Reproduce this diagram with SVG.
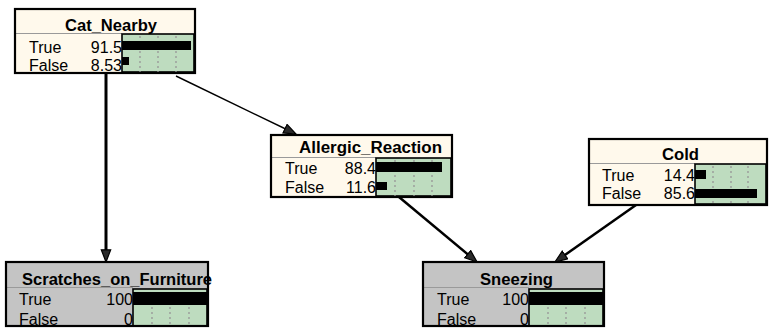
<svg xmlns="http://www.w3.org/2000/svg" width="772" height="335" viewBox="0 0 772 335">
  <style>
    .frame { fill: none; stroke: #000; stroke-width: 2.2; }
    .cream { fill: #fff9ec; }
    .grey { fill: #c4c4c4; }
    .sep { stroke: #9a9a9a; stroke-width: 1; }
    .belief { fill: #bedcbf; stroke: #000; stroke-width: 1.6; }
    .grid { stroke: #9a9a9a; stroke-width: 1.4; stroke-dasharray: 2 3; }
    .bar { fill: #000; }
    .title { font-family: "Liberation Sans", Arial, sans-serif; font-size: 16px; font-weight: bold; fill: #000; }
    .state { font-family: "Liberation Sans", Arial, sans-serif; font-size: 16px; fill: #000; }
    .num { font-family: "Liberation Sans", Arial, sans-serif; font-size: 16px; fill: #000; text-anchor: end; }
    .link { fill: none; stroke: #000; }
  </style>
  <defs>
    <marker id="head" markerUnits="userSpaceOnUse" markerWidth="16" markerHeight="14" refX="5" refY="5.5" orient="auto">
      <path d="M0.8,0.8 L13,5.5 L0.8,10.2 Z" fill="#2a2a2a" stroke="#000" stroke-width="1.2"/>
    </marker>
    <linearGradient id="fade" gradientUnits="userSpaceOnUse" x1="176" y1="76" x2="289" y2="131">
      <stop offset="0" stop-color="#d0d0d0"/>
      <stop offset="0.6" stop-color="#555"/>
      <stop offset="1" stop-color="#000"/>
    </linearGradient>
  </defs>

  <!-- connectors -->
  <g id="links">
    <line class="link" x1="106" y1="73" x2="106" y2="254" stroke-width="3" marker-end="url(#head)"/>
    <line class="link" x1="176" y1="76" x2="288.8" y2="130.5" stroke="url(#fade)" stroke-width="1.4" marker-end="url(#head)"/>
    <line class="link" x1="399" y1="197" x2="470.9" y2="256.9" stroke-width="2.5" marker-end="url(#head)"/>
    <line class="link" x1="636" y1="205" x2="561.5" y2="257.4" stroke-width="2.5" marker-end="url(#head)"/>
  </g>

  <!-- Cat_Nearby -->
  <g id="cat_nearby">
    <rect class="cream" x="15" y="9" width="180" height="64"/>
    <text class="title" x="65" y="31" textLength="92" lengthAdjust="spacingAndGlyphs">Cat_Nearby</text>
    <rect class="cream" x="15" y="33" width="107" height="40"/>
    <line class="sep" x1="15" y1="33.5" x2="122" y2="33.5"/>
    <rect class="belief" x="122" y="34" width="72" height="38"/>
    <line class="grid" x1="140" y1="36" x2="140" y2="72"/>
    <line class="grid" x1="158" y1="36" x2="158" y2="72"/>
    <line class="grid" x1="176" y1="36" x2="176" y2="72"/>
    <rect class="bar" x="122" y="41" width="69" height="9"/>
    <rect class="bar" x="122" y="57" width="7" height="8"/>
    <text class="state" x="29" y="53">True</text>
    <text class="num" x="122" y="53">91.5</text>
    <text class="state" x="29" y="71">False</text>
    <text class="num" x="122" y="71">8.53</text>
    <rect class="frame" x="15" y="9" width="180" height="64"/>
  </g>

  <!-- Allergic_Reaction -->
  <g id="allergic_reaction">
    <rect class="cream" x="271" y="135" width="181" height="62"/>
    <text class="title" x="299" y="153" textLength="143" lengthAdjust="spacingAndGlyphs">Allergic_Reaction</text>
    <rect class="cream" x="271" y="157" width="105" height="40"/>
    <line class="sep" x1="271" y1="157.5" x2="376" y2="157.5"/>
    <rect class="belief" x="376" y="158" width="75" height="38"/>
    <line class="grid" x1="395" y1="160" x2="395" y2="196"/>
    <line class="grid" x1="414" y1="160" x2="414" y2="196"/>
    <line class="grid" x1="432" y1="160" x2="432" y2="196"/>
    <rect class="bar" x="376" y="162" width="66" height="10"/>
    <rect class="bar" x="376" y="182" width="11" height="8"/>
    <text class="state" x="285" y="174">True</text>
    <text class="num" x="376" y="174">88.4</text>
    <text class="state" x="285" y="193">False</text>
    <text class="num" x="376" y="193">11.6</text>
    <rect class="frame" x="271" y="135" width="181" height="62"/>
  </g>

  <!-- Cold -->
  <g id="cold">
    <rect class="cream" x="589" y="139" width="178" height="66"/>
    <text class="title" x="662" y="160" textLength="37" lengthAdjust="spacingAndGlyphs">Cold</text>
    <rect class="cream" x="589" y="163" width="106" height="42"/>
    <line class="sep" x1="589" y1="163.5" x2="695" y2="163.5"/>
    <rect class="belief" x="695" y="164" width="71" height="40"/>
    <line class="grid" x1="713" y1="166" x2="713" y2="204"/>
    <line class="grid" x1="731" y1="166" x2="731" y2="204"/>
    <line class="grid" x1="748" y1="166" x2="748" y2="204"/>
    <rect class="bar" x="695" y="170" width="11" height="9"/>
    <rect class="bar" x="695" y="189" width="62" height="9"/>
    <text class="state" x="602" y="181">True</text>
    <text class="num" x="695" y="181">14.4</text>
    <text class="state" x="602" y="199">False</text>
    <text class="num" x="695" y="199">85.6</text>
    <rect class="frame" x="589" y="139" width="178" height="66"/>
  </g>

  <!-- Scratches_on_Furniture (observed) -->
  <g id="scratches_on_furniture">
    <rect class="grey" x="6" y="262" width="202" height="64"/>
    <text class="title" x="22" y="285" textLength="190" lengthAdjust="spacingAndGlyphs">Scratches_on_Furniture</text>
    <rect class="grey" x="6" y="287" width="127" height="39"/>
    <line class="sep" x1="6" y1="287.5" x2="133" y2="287.5"/>
    <rect class="belief" x="133" y="289" width="74" height="37"/>
    <line class="grid" x1="152" y1="307" x2="152" y2="326"/>
    <line class="grid" x1="170" y1="307" x2="170" y2="326"/>
    <line class="grid" x1="189" y1="307" x2="189" y2="326"/>
    <rect class="bar" x="133" y="292" width="74" height="13"/>
    <text class="state" x="19" y="305">True</text>
    <text class="num" x="133" y="305">100</text>
    <text class="state" x="19" y="325">False</text>
    <text class="num" x="133" y="325">0</text>
    <rect class="frame" x="6" y="262" width="202" height="64"/>
  </g>

  <!-- Sneezing (observed) -->
  <g id="sneezing">
    <rect class="grey" x="423" y="262" width="181" height="64"/>
    <text class="title" x="480" y="285" textLength="73" lengthAdjust="spacingAndGlyphs">Sneezing</text>
    <rect class="grey" x="423" y="287" width="106" height="39"/>
    <line class="sep" x1="423" y1="287.5" x2="529" y2="287.5"/>
    <rect class="belief" x="529" y="289" width="74" height="37"/>
    <line class="grid" x1="548" y1="307" x2="548" y2="326"/>
    <line class="grid" x1="566" y1="307" x2="566" y2="326"/>
    <line class="grid" x1="585" y1="307" x2="585" y2="326"/>
    <rect class="bar" x="529" y="292" width="74" height="13"/>
    <text class="state" x="437" y="305">True</text>
    <text class="num" x="529" y="305">100</text>
    <text class="state" x="437" y="325">False</text>
    <text class="num" x="529" y="325">0</text>
    <rect class="frame" x="423" y="262" width="181" height="64"/>
  </g>
</svg>
